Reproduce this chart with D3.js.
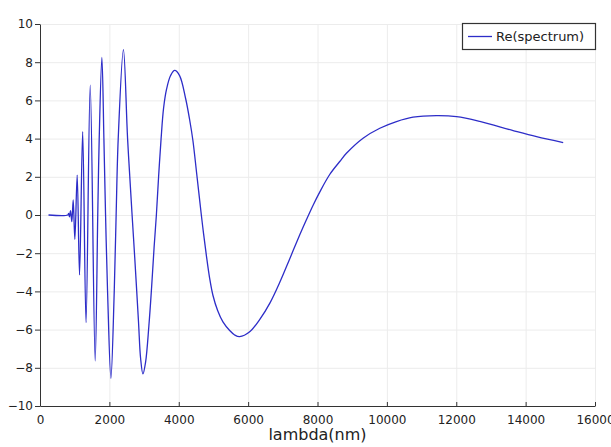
<!DOCTYPE html>
<html>
<head>
<meta charset="utf-8">
<script src="https://cdn.jsdelivr.net/npm/d3@7/dist/d3.min.js"></script>
<style>
  html, body { margin: 0; padding: 0; background: #ffffff; }
  svg { display: block; }
</style>
</head>
<body>
<svg id="chart" width="611" height="447"></svg>
<script>
// ---- data ----
const seriesName = "Re(spectrum)";
const xLabel = "lambda(nm)";
const xTicks = [0, 2000, 4000, 6000, 8000, 10000, 12000, 14000, 16000];
const yTicks = [-10, -8, -6, -4, -2, 0, 2, 4, 6, 8, 10];
const lambda = [245, 800, 825, 850, 880, 918, 957, 1005, 1072, 1140, 1230, 1327, 1448, 1590, 1665, 1707, 1784, 1842, 1890, 1948, 2044, 2140, 2195, 2255, 2405, 2525, 2655, 2730, 2840, 2900, 2967, 3044, 3139, 3217, 3289, 3355, 3419, 3491, 3563, 3650, 3765, 3882, 4024, 4198, 4313, 4408, 4515, 4651, 4717, 4795, 4890, 4985, 5121, 5274, 5468, 5612, 5756, 6054, 6342, 6631, 6919, 7198, 7486, 7680, 7870, 8064, 8352, 8641, 8834, 9313, 9796, 10276, 10755, 11430, 12008, 12679, 13640, 14315, 15083];
const reSpectrum = [0, 0, 0.08, -0.1, 0.23, -0.35, 0.79, -1.27, 2.09, -3.14, 4.36, -5.64, 6.8, -7.64, 0, 4, 8.25, 4, 0, -4, -8.55, -4, 0, 4, 8.66, 4, 0, -2.2, -5.6, -7.5, -8.32, -7.7, -5.8, -3.8, -1.7, 0, 2.0, 4.0, 5.6, 6.6, 7.3, 7.57, 7.3, 6.1, 5.0, 3.9, 2.2, 0, -1.0, -2.1, -3.3, -4.2, -5.0, -5.6, -6.05, -6.28, -6.37, -6.1, -5.45, -4.6, -3.5, -2.3, -1.05, -0.25, 0.5, 1.2, 2.12, 2.8, 3.23, 4.02, 4.54, 4.89, 5.12, 5.2, 5.15, 4.9, 4.42, 4.1, 3.79];

const points = lambda.map((x, i) => ({ x, y: reSpectrum[i] }));

// ---- layout ----
const svg = d3.select("#chart");
const x = d3.scaleLinear().domain([0, 16000]).range([40, 595]);
const y = d3.scaleLinear().domain([-10, 10]).range([406, 24]);
const lineColor = "#2d2dc8";
const axisColor = "#333333";
const gridColor = "#ececec";

// grid
const grid = svg.append("g");
grid.selectAll("line.v").data(xTicks.filter(d => d !== 0)).enter().append("line")
  .attr("x1", d => x(d) + 0.5).attr("x2", d => x(d) + 0.5)
  .attr("y1", y(10)).attr("y2", y(-10))
  .attr("stroke", gridColor).attr("stroke-width", 1);
grid.selectAll("line.h").data(yTicks.filter(d => d !== -10)).enter().append("line")
  .attr("x1", x(0)).attr("x2", x(16000) + 1)
  .attr("y1", d => y(d) + 0.5).attr("y2", d => y(d) + 0.5)
  .attr("stroke", gridColor).attr("stroke-width", 1);

// curve
const line = d3.line()
  .x(d => x(d.x))
  .y(d => y(d.y))
  .curve(d3.curveCatmullRom.alpha(0.5));
svg.append("path")
  .datum(points)
  .attr("d", line)
  .attr("fill", "none")
  .attr("stroke", lineColor)
  .attr("stroke-width", 1.3)
  .attr("stroke-linejoin", "round");

// axes
const xAxis = d3.axisBottom(x).tickValues(xTicks).tickFormat(d3.format("d"))
  .tickSizeInner(-4).tickSizeOuter(0).tickPadding(9);
const yAxis = d3.axisLeft(y).tickValues(yTicks).tickFormat(d3.format("d"))
  .tickSizeInner(5).tickSizeOuter(0).tickPadding(2);

const gx = svg.append("g").attr("transform", `translate(0,${y(-10)})`).call(xAxis);
const gy = svg.append("g").attr("transform", `translate(${x(0)},0)`).call(yAxis);
[gx, gy].forEach(g => {
  g.select(".domain").attr("stroke", axisColor);
  g.selectAll(".tick line").attr("stroke", axisColor);
  g.selectAll(".tick text")
    .attr("fill", "#222")
    .style("font-family", "'DejaVu Sans', sans-serif")
    .style("font-size", "12px");
});

// x label
svg.append("text")
  .attr("x", (x(0) + x(16000)) / 2)
  .attr("y", 440)
  .attr("text-anchor", "middle")
  .attr("fill", "#222")
  .style("font-family", "'DejaVu Sans', sans-serif")
  .style("font-size", "16px")
  .text(xLabel);

// legend
const lg = svg.append("g");
lg.append("rect")
  .attr("x", 462.5).attr("y", 23.5).attr("width", 133).attr("height", 26)
  .attr("fill", "#ffffff").attr("stroke", axisColor).attr("stroke-width", 1.2);
lg.append("line")
  .attr("x1", 468).attr("x2", 492).attr("y1", 36.5).attr("y2", 36.5)
  .attr("stroke", lineColor).attr("stroke-width", 1.3);
lg.append("text")
  .attr("x", 496).attr("y", 36.5)
  .attr("dominant-baseline", "central")
  .attr("fill", "#222")
  .style("font-family", "'DejaVu Sans', sans-serif")
  .style("font-size", "13px")
  .text(seriesName);
</script>
</body>
</html>
